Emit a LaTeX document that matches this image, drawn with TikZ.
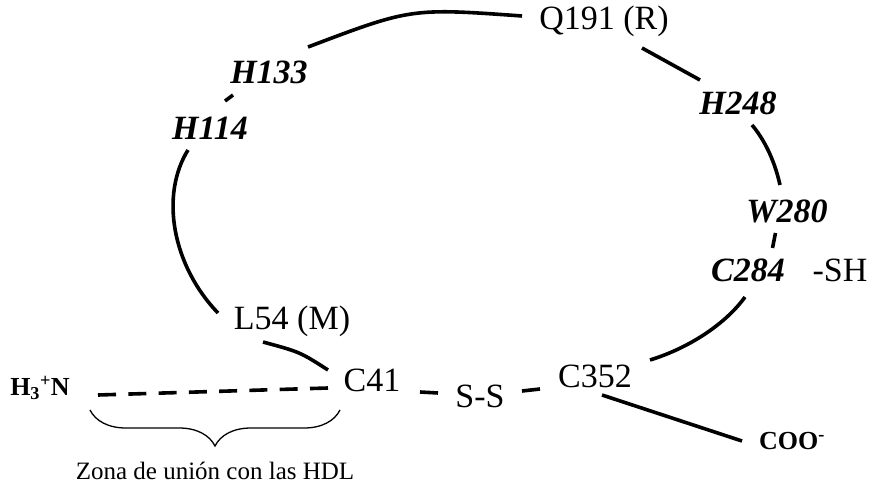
\documentclass[tikz,border=0pt]{standalone}
\usepackage{fontspec}
\setmainfont{Liberation Serif}
\usetikzlibrary{decorations.pathreplacing}
\tikzset{
  lbl/.style={inner sep=0pt, font=\fontsize{34}{40}\selectfont},
  ilbl/.style={inner sep=0pt, font=\fontsize{34}{40}\selectfont\bfseries\itshape},
  slbl/.style={inner sep=0pt, font=\fontsize{26}{30}\selectfont\bfseries},
  zlbl/.style={inner sep=0pt, font=\fontsize{25}{30}\selectfont},
  chain/.style={line width=3.6pt},
  tick/.style={line width=3.6pt},
  ndash/.style={line width=3.6pt, dash pattern=on 18pt off 12.3pt},
  bracestyle/.style={line width=1.3pt, decorate, decoration={brace, mirror, amplitude=36pt}}
}
\begin{document}
\begin{tikzpicture}[x=1pt,y=-1pt]
\useasboundingbox (0,0) rectangle (876,487);
% labels
\node[lbl]  (Q191) at (604,21)  {Q191 (R)};
\node[ilbl] (H133) at (269,72)  {H133};
\node[ilbl] (H114) at (210,128) {H114};
\node[ilbl] (H248) at (738,103) {H248};
\node[ilbl] (W280) at (787,211) {W280};
\node[ilbl] (C284) at (748,270) {C284};
\node[lbl]  (SH)   at (840,270) {-SH};
\node[lbl]  (L54)  at (292,321) {L54 (M)};
\node[lbl]  (C41)  at (372,380) {C41};
\node[lbl]  (SS)   at (480,396) {S-S};
\node[lbl]  (C352) at (595,376) {C352};
\node[slbl] (COO)  at (792,441) {COO\textsuperscript{-}};
\node[slbl] (NH)   at (40,388)  {H\textsubscript{3}\textsuperscript{+}N};
\node[zlbl] (zona) at (215,471) {Zona de unión con las HDL};
% endpoints
\coordinate (a1) at (308,47);   \coordinate (a2) at (522,16);
\coordinate (b1) at (642,48);   \coordinate (b2) at (700,80);
\coordinate (c1) at (752,125);  \coordinate (c2) at (780,185);
\coordinate (d1) at (775.5,233);\coordinate (d2) at (772.5,248);
\coordinate (e1) at (745,297);  \coordinate (e2) at (650,360);
\coordinate (f1) at (420,392);  \coordinate (f2) at (438,393);
\coordinate (g1) at (522,391);  \coordinate (g2) at (540,389);
\coordinate (h1) at (602,395);  \coordinate (h2) at (742,441);
\coordinate (i1) at (263,342);  \coordinate (i2) at (328,370);
\coordinate (j1) at (188,150);  \coordinate (j2) at (218,313);
\coordinate (k1) at (233,95);   \coordinate (k2) at (225,101);
\coordinate (n1) at (98,395);   \coordinate (n2) at (328,388);
\coordinate (br1) at (90,410);  \coordinate (br2) at (340,410);
% connectors
\draw[chain] (a1) .. controls (411,8) .. (a2);
\draw[chain] (b1) -- (b2);
\draw[chain] (c1) .. controls (763,138) and (774,158) .. (c2);
\draw[tick]  (d1) -- (d2);
\draw[chain] (e1) .. controls (727,322) and (692,347) .. (e2);
\draw[tick]  (f1) -- (f2);
\draw[tick]  (g1) -- (g2);
\draw[chain] (h1) -- (h2);
\draw[chain] (i1) .. controls (300,352) .. (i2);
\draw[chain] (j1) .. controls (160,195) and (172,265) .. (j2);
\draw[tick]  (k1) -- (k2);
\draw[ndash] (n1) -- (n2);
\draw[bracestyle] (br1) -- (br2);
\end{tikzpicture}
\end{document}
